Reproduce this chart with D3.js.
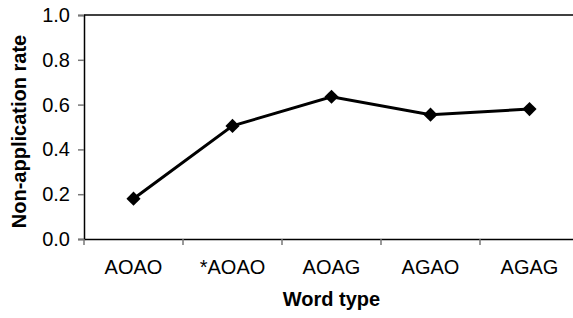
<!DOCTYPE html>
<html>
<head>
<meta charset="utf-8">
<script src="https://cdn.jsdelivr.net/npm/d3@7"></script>
<style>
  body { margin: 0; background: #fff; }
  text { font-family: "Liberation Sans", Arial, sans-serif; fill: #000; }
</style>
</head>
<body>
<div id="chart"></div>
<script>
var categories = ["AOAO", "*AOAO", "AOAG", "AGAO", "AGAG"];
var rates = [0.18, 0.505, 0.635, 0.555, 0.58];
var yTicks = [0, 0.2, 0.4, 0.6, 0.8, 1.0];

var W = 573, H = 318;
var margin = {top: 15, right: -6, bottom: 79, left: 84};
var width = W - margin.left - margin.right,
    height = H - margin.top - margin.bottom;

var svg = d3.select("#chart").append("svg")
    .attr("width", W)
    .attr("height", H);

var g = svg.append("g").attr("transform", "translate(" + margin.left + "," + margin.top + ")");

var x = d3.scaleBand().domain(categories).range([0, width]);
var y = d3.scaleLinear().domain([0, 1]).range([height, 0]);

// top border of plot area
g.append("line")
    .attr("x1", 0).attr("x2", width)
    .attr("y1", y(1)).attr("y2", y(1))
    .attr("stroke", "#000").attr("stroke-width", 1.5);

// y axis
var yAxis = g.append("g")
    .call(d3.axisLeft(y).tickValues(yTicks).tickFormat(d3.format(".1f")).tickSize(6).tickPadding(8));
yAxis.select(".domain").attr("stroke", "#000").attr("stroke-width", 1.5);
yAxis.selectAll(".tick line").attr("stroke", "#777").attr("stroke-width", 1.5);
yAxis.selectAll("text").style("font-size", "20px").attr("fill", "#000");

// x axis, ticks at band edges
var xAxis = g.append("g")
    .attr("transform", "translate(0," + height + ")")
    .call(d3.axisBottom(x).tickSize(0).tickPadding(21));
xAxis.select(".domain").attr("stroke", "#000").attr("stroke-width", 1.5);
xAxis.selectAll("text").style("font-size", "20px").attr("fill", "#000");

g.selectAll(".xtick")
    .data(categories)
    .enter().append("line")
    .attr("class", "xtick")
    .attr("x1", function(d) { return x(d); })
    .attr("x2", function(d) { return x(d); })
    .attr("y1", height).attr("y2", height + 6)
    .attr("stroke", "#777").attr("stroke-width", 1.5);

// line + markers
var line = d3.line()
    .x(function(d, i) { return x(categories[i]) + x.bandwidth() / 2; })
    .y(function(d) { return y(d); });

g.append("path")
    .datum(rates)
    .attr("d", line)
    .attr("fill", "none")
    .attr("stroke", "#000")
    .attr("stroke-width", 3);

var diamond = d3.symbol().type(d3.symbolSquare).size(100);
g.selectAll(".marker")
    .data(rates)
    .enter().append("path")
    .attr("class", "marker")
    .attr("d", diamond)
    .attr("transform", function(d, i) {
        return "translate(" + (x(categories[i]) + x.bandwidth() / 2) + "," + y(d) + ") rotate(45)";
    })
    .attr("fill", "#000");

// axis titles
svg.append("text")
    .attr("x", margin.left + width / 2)
    .attr("y", 306)
    .attr("text-anchor", "middle")
    .style("font-size", "20px")
    .style("font-weight", "bold")
    .text("Word type");

svg.append("text")
    .attr("transform", "translate(26,131.5) rotate(-90)")
    .attr("text-anchor", "middle")
    .style("font-size", "20px")
    .style("font-weight", "bold")
    .text("Non-application rate");
</script>
</body>
</html>
